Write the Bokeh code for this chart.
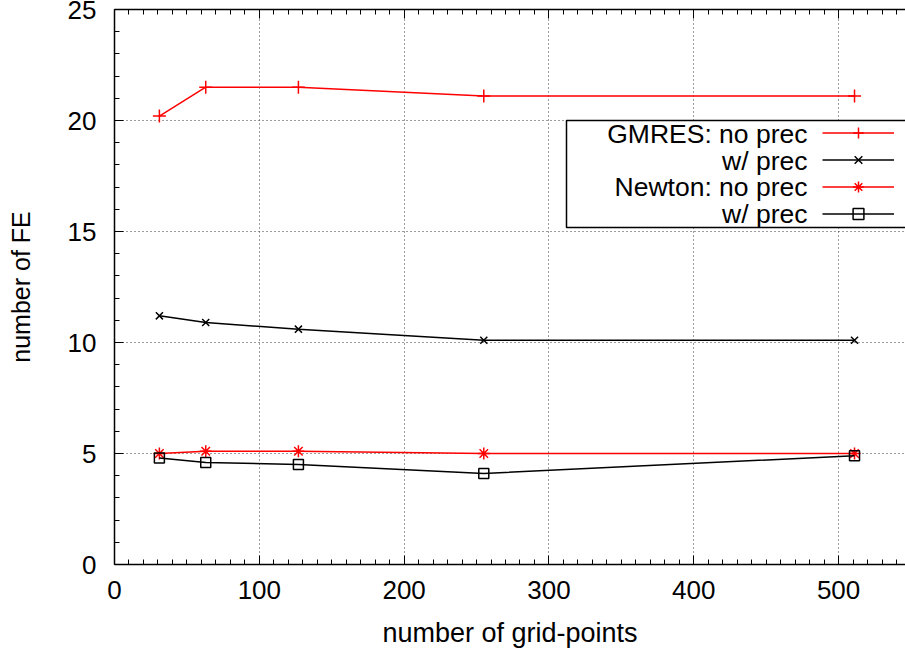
from bokeh.plotting import figure
from bokeh.models import (Range1d, SingleIntervalTicker, LinearAxis, Legend,
                          LegendItem, Label, BoxAnnotation, CustomLabelingPolicy)
from bokeh.core.properties import value
from bokeh.embed import file_html
from bokeh.resources import INLINE

# ---- data ----
grid_points = [31, 63, 127, 255, 511]
gmres_no_prec = [20.2, 21.5, 21.5, 21.1, 21.1]
gmres_w_prec = [11.2, 10.9, 10.6, 10.1, 10.1]
newton_no_prec = [5.0, 5.1, 5.1, 5.0, 5.0]
newton_w_prec = [4.8, 4.6, 4.5, 4.1, 4.9]
series_labels = ["GMRES: no prec", "w/ prec", "Newton: no prec", "w/ prec"]
x_label = "number of grid-points"
y_label = "number of FE"

FONT = "Liberation Sans"
FS_TICK = "26px"
FS_H = "26.5px"
FS_X = "27px"
FS_V = "25px"

p = figure(width=905, height=651, output_backend="svg", toolbar_location=None,
           x_range=Range1d(0, 546.2), y_range=Range1d(0, 25),
           min_border_left=114, min_border_right=0, min_border_top=9,
           min_border_bottom=87, x_axis_label=x_label, y_axis_label=y_label)
p.outline_line_color = None
p.background_fill_color = "white"
p.border_fill_color = "white"

xt = SingleIntervalTicker(interval=100, num_minor_ticks=10)
yt = SingleIntervalTicker(interval=5, num_minor_ticks=5)

top = LinearAxis(ticker=SingleIntervalTicker(interval=100, num_minor_ticks=10))
p.add_layout(top, "above")

for ax in [p.below[0], p.left[0], top]:
    ax.axis_line_color = "black"
    ax.axis_line_width = 1.5
    ax.major_tick_in = 9
    ax.major_tick_out = 0
    ax.minor_tick_in = 5
    ax.minor_tick_out = 0
    ax.major_tick_line_color = "black"
    ax.minor_tick_line_color = "black"
    ax.major_tick_line_width = 1
    ax.minor_tick_line_width = 1
    ax.major_label_text_font = FONT
    ax.major_label_text_font_size = FS_TICK
    ax.major_label_text_color = "black"
    ax.axis_label_text_font = FONT
    ax.axis_label_text_font_size = FS_X
    ax.axis_label_text_font_style = "normal"
    ax.axis_label_text_color = "black"

p.left[0].axis_label_text_font_size = FS_V
p.below[0].ticker = xt
p.left[0].ticker = yt
p.below[0].major_label_standoff = 16
p.below[0].axis_label_standoff = 16
p.left[0].major_label_standoff = 18
p.left[0].axis_label_standoff = 30
# top border: ticks only, no labels
top.major_label_policy = CustomLabelingPolicy(
    code="for (const i of indices) indices.unset(i); return indices")
top.major_label_text_font_size = "0px"
top.major_label_standoff = 0

p.xgrid.ticker = xt
p.ygrid.ticker = yt
for g in [p.xgrid[0], p.ygrid[0]]:
    g.grid_line_color = "#3a3a3a"
    g.grid_line_dash = "1 3"
    g.grid_line_width = 1

RED = "#ff0000"
BLK = "#000000"

l1 = p.line(grid_points, gmres_no_prec, line_color=RED, line_width=1.5)
s1 = p.scatter(grid_points, gmres_no_prec, marker="cross", size=13,
               line_color=RED, line_width=1.5)
l2 = p.line(grid_points, gmres_w_prec, line_color=BLK, line_width=1.5)
s2 = p.scatter(grid_points, gmres_w_prec, marker="x", size=10,
               line_color=BLK, line_width=1.5)
l3 = p.line(grid_points, newton_no_prec, line_color=RED, line_width=1.5)
s3 = p.scatter(grid_points, newton_no_prec, marker="asterisk", size=12,
               line_color=RED, line_width=1.5)
l4 = p.line(grid_points, newton_w_prec, line_color=BLK, line_width=1.5)
s4 = p.scatter(grid_points, newton_w_prec, marker="square", size=10,
               line_color=BLK, fill_color=None, line_width=1.5)

# legend frame (white box)
box = BoxAnnotation(left=452, right=800, top=444, bottom=337,
                    left_units="screen", right_units="screen",
                    top_units="screen", bottom_units="screen",
                    fill_color="white", fill_alpha=1.0,
                    line_color="black", line_width=1.5, line_alpha=1.0)
p.add_layout(box)

# legend texts, right aligned left of the samples
row_y = [430.7, 404.0, 377.3, 350.7]
for txt, yy in zip(series_labels, row_y):
    p.add_layout(Label(x=693, y=yy, x_units="screen", y_units="screen",
                       text=txt, text_align="right", text_baseline="middle",
                       text_font=FONT, text_font_size=FS_H, text_color="black"))

legend = Legend(items=[
    LegendItem(label=value(" "), renderers=[l1, s1]),
    LegendItem(label=value(" "), renderers=[l2, s2]),
    LegendItem(label=value(" "), renderers=[l3, s3]),
    LegendItem(label=value(" "), renderers=[l4, s4]),
], location=(708, 337), glyph_width=72, glyph_height=27, spacing=0,
    padding=0, margin=0, label_standoff=0, label_width=0,
    label_text_font_size="1px", border_line_color=None,
    background_fill_alpha=0)
p.add_layout(legend)

open("out.html", "w").write(file_html(p, INLINE))
